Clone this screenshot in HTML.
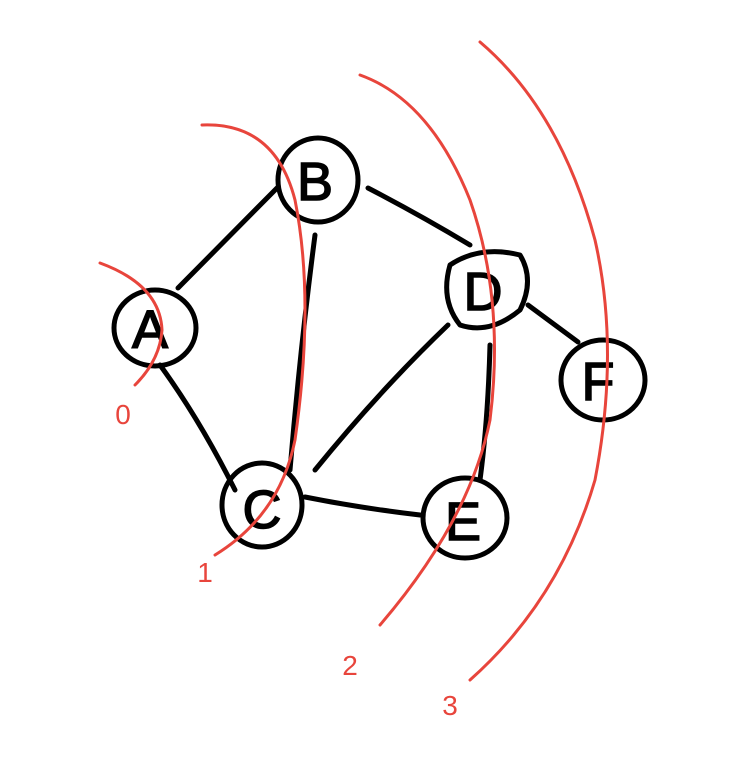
<!DOCTYPE html>
<html><head><meta charset="utf-8"><style>
html,body{margin:0;padding:0;background:#fff;}
svg{display:block;}
text{font-family:"Liberation Sans",sans-serif;}
</style></head><body>
<svg width="750" height="760" viewBox="0 0 750 760" xmlns="http://www.w3.org/2000/svg">
<g fill="none" stroke="#000" stroke-width="5" stroke-linecap="round" stroke-linejoin="round">
<path d="M178 288 L278 187"/>
<path d="M368 188 Q420 215 470 245"/>
<path d="M315 235 Q300 350 290 470"/>
<path d="M160 365 Q200 420 235 490"/>
<path d="M315 470 Q380 390 448 325"/>
<path d="M490 345 Q488 420 480 480"/>
<path d="M305 497 Q360 508 420 515"/>
<path d="M528 305 L578 342"/>
<ellipse cx="155" cy="328" rx="41" ry="38"/>
<ellipse cx="318" cy="180" rx="40" ry="42"/>
<path d="M450 265 Q480 245 520 255 Q535 280 520 310 Q490 335 460 325 Q440 300 450 265 Z"/>
<ellipse cx="603" cy="380" rx="42" ry="40"/>
<ellipse cx="262" cy="505" rx="40" ry="42"/>
<ellipse cx="465" cy="518" rx="42" ry="40"/>
</g>
<g fill="#000" stroke="#000" stroke-width="1.5" font-size="54" text-anchor="middle">
<text x="150" y="348">A</text>
<text x="315" y="200">B</text>
<text x="483" y="310">D</text>
<text x="598" y="400">F</text>
<text x="262" y="528">C</text>
<text x="463" y="540">E</text>
</g>
<g fill="none" stroke="#e8453c" stroke-width="3" stroke-linecap="round">
<path d="M100 263 Q160 285 162 330 Q160 360 135 385"/>
<path d="M202 125 Q275 122 295 200 Q315 300 295 440 Q280 515 215 555"/>
<path d="M360 75 Q430 100 470 200 Q505 300 490 420 Q470 520 380 625"/>
<path d="M480 42 Q560 110 595 240 Q620 350 595 480 Q560 600 470 680"/>
</g>
<g fill="#e8453c" font-size="28" text-anchor="middle">
<text x="123" y="424">0</text>
<text x="205" y="582">1</text>
<text x="350" y="675">2</text>
<text x="450" y="715">3</text>
</g>
</svg>
</body></html>
